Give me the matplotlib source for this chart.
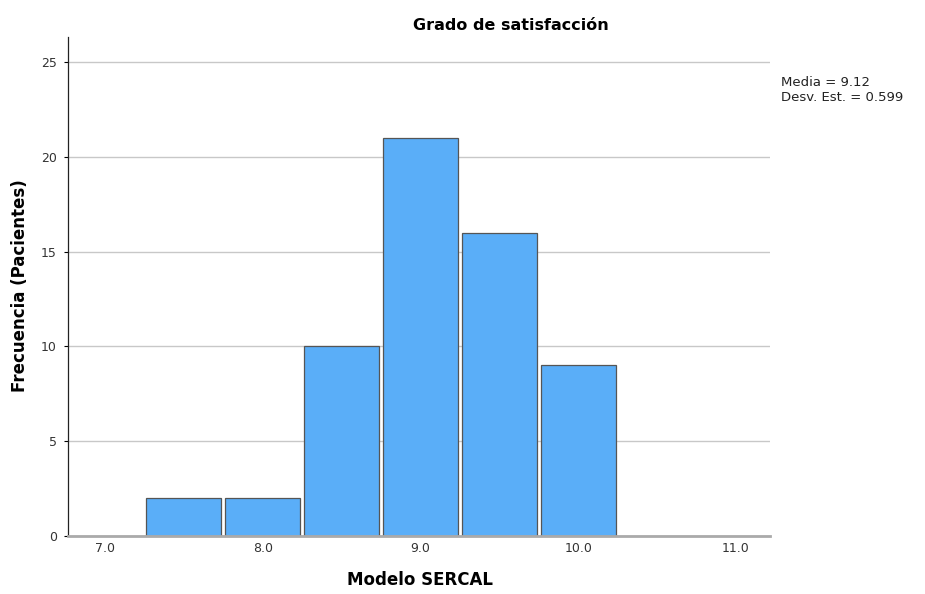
import numpy as np
import matplotlib
matplotlib.use("Agg")
import matplotlib.pyplot as plt

# histogram bins (centres) and counts
bin_centres = [7.5, 8.0, 8.5, 9.0, 9.5, 10.0]
counts = [2, 2, 10, 21, 16, 9]
x_ticks = [7.0, 8.0, 9.0, 10.0, 11.0]
y_ticks = [0, 5, 10, 15, 20, 25]
media = 9.12
desv = 0.599

fig = plt.figure(figsize=(9.25, 5.94), dpi=100)
ax = fig.add_axes([0.0735, 0.0976, 0.7589, 0.8401])

ax.bar(bin_centres, counts, width=0.475, color="#5aaef8",
       edgecolor="#555555", linewidth=0.9, zorder=3)

ax.set_xlim(6.766, 11.215)
ax.set_ylim(0, 26.32)
ax.set_xticks(x_ticks)
ax.set_xticklabels([f"{v:.1f}" for v in x_ticks], fontsize=9, color="#333333")
ax.set_yticks(y_ticks)
ax.set_yticklabels([str(v) for v in y_ticks], fontsize=9, color="#333333")
ax.tick_params(axis="x", length=0, pad=4)
ax.tick_params(axis="y", length=3, width=0.8, pad=5)

ax.yaxis.grid(True, color="#c8c8c8", linewidth=1.0, zorder=0)
ax.xaxis.grid(False)

for s in ["top", "right"]:
    ax.spines[s].set_visible(False)
ax.spines["left"].set_color("#222222")
ax.spines["left"].set_linewidth(0.9)
ax.spines["bottom"].set_color("#aaaaaa")
ax.spines["bottom"].set_linewidth(2.0)
ax.spines["bottom"].set_zorder(4)

fig.text(511 / 925, 1 - 25 / 594, "Grado de satisfacción", fontsize=11.5,
         fontweight="bold", ha="center", va="center")
fig.text(420 / 925, 1 - 580 / 594, "Modelo SERCAL", fontsize=12,
         fontweight="bold", ha="center", va="center")
fig.text(20 / 925, 1 - 286 / 594, "Frecuencia (Pacientes)", fontsize=12,
         fontweight="bold", ha="center", va="center", rotation=90)

fig.text(781 / 925, 1 - 90 / 594, f"Media = {media}\nDesv. Est. = {desv}",
         fontsize=9.5, va="center", ha="left", linespacing=1.25, color="#222222")

fig.savefig("out.png", dpi=100)
